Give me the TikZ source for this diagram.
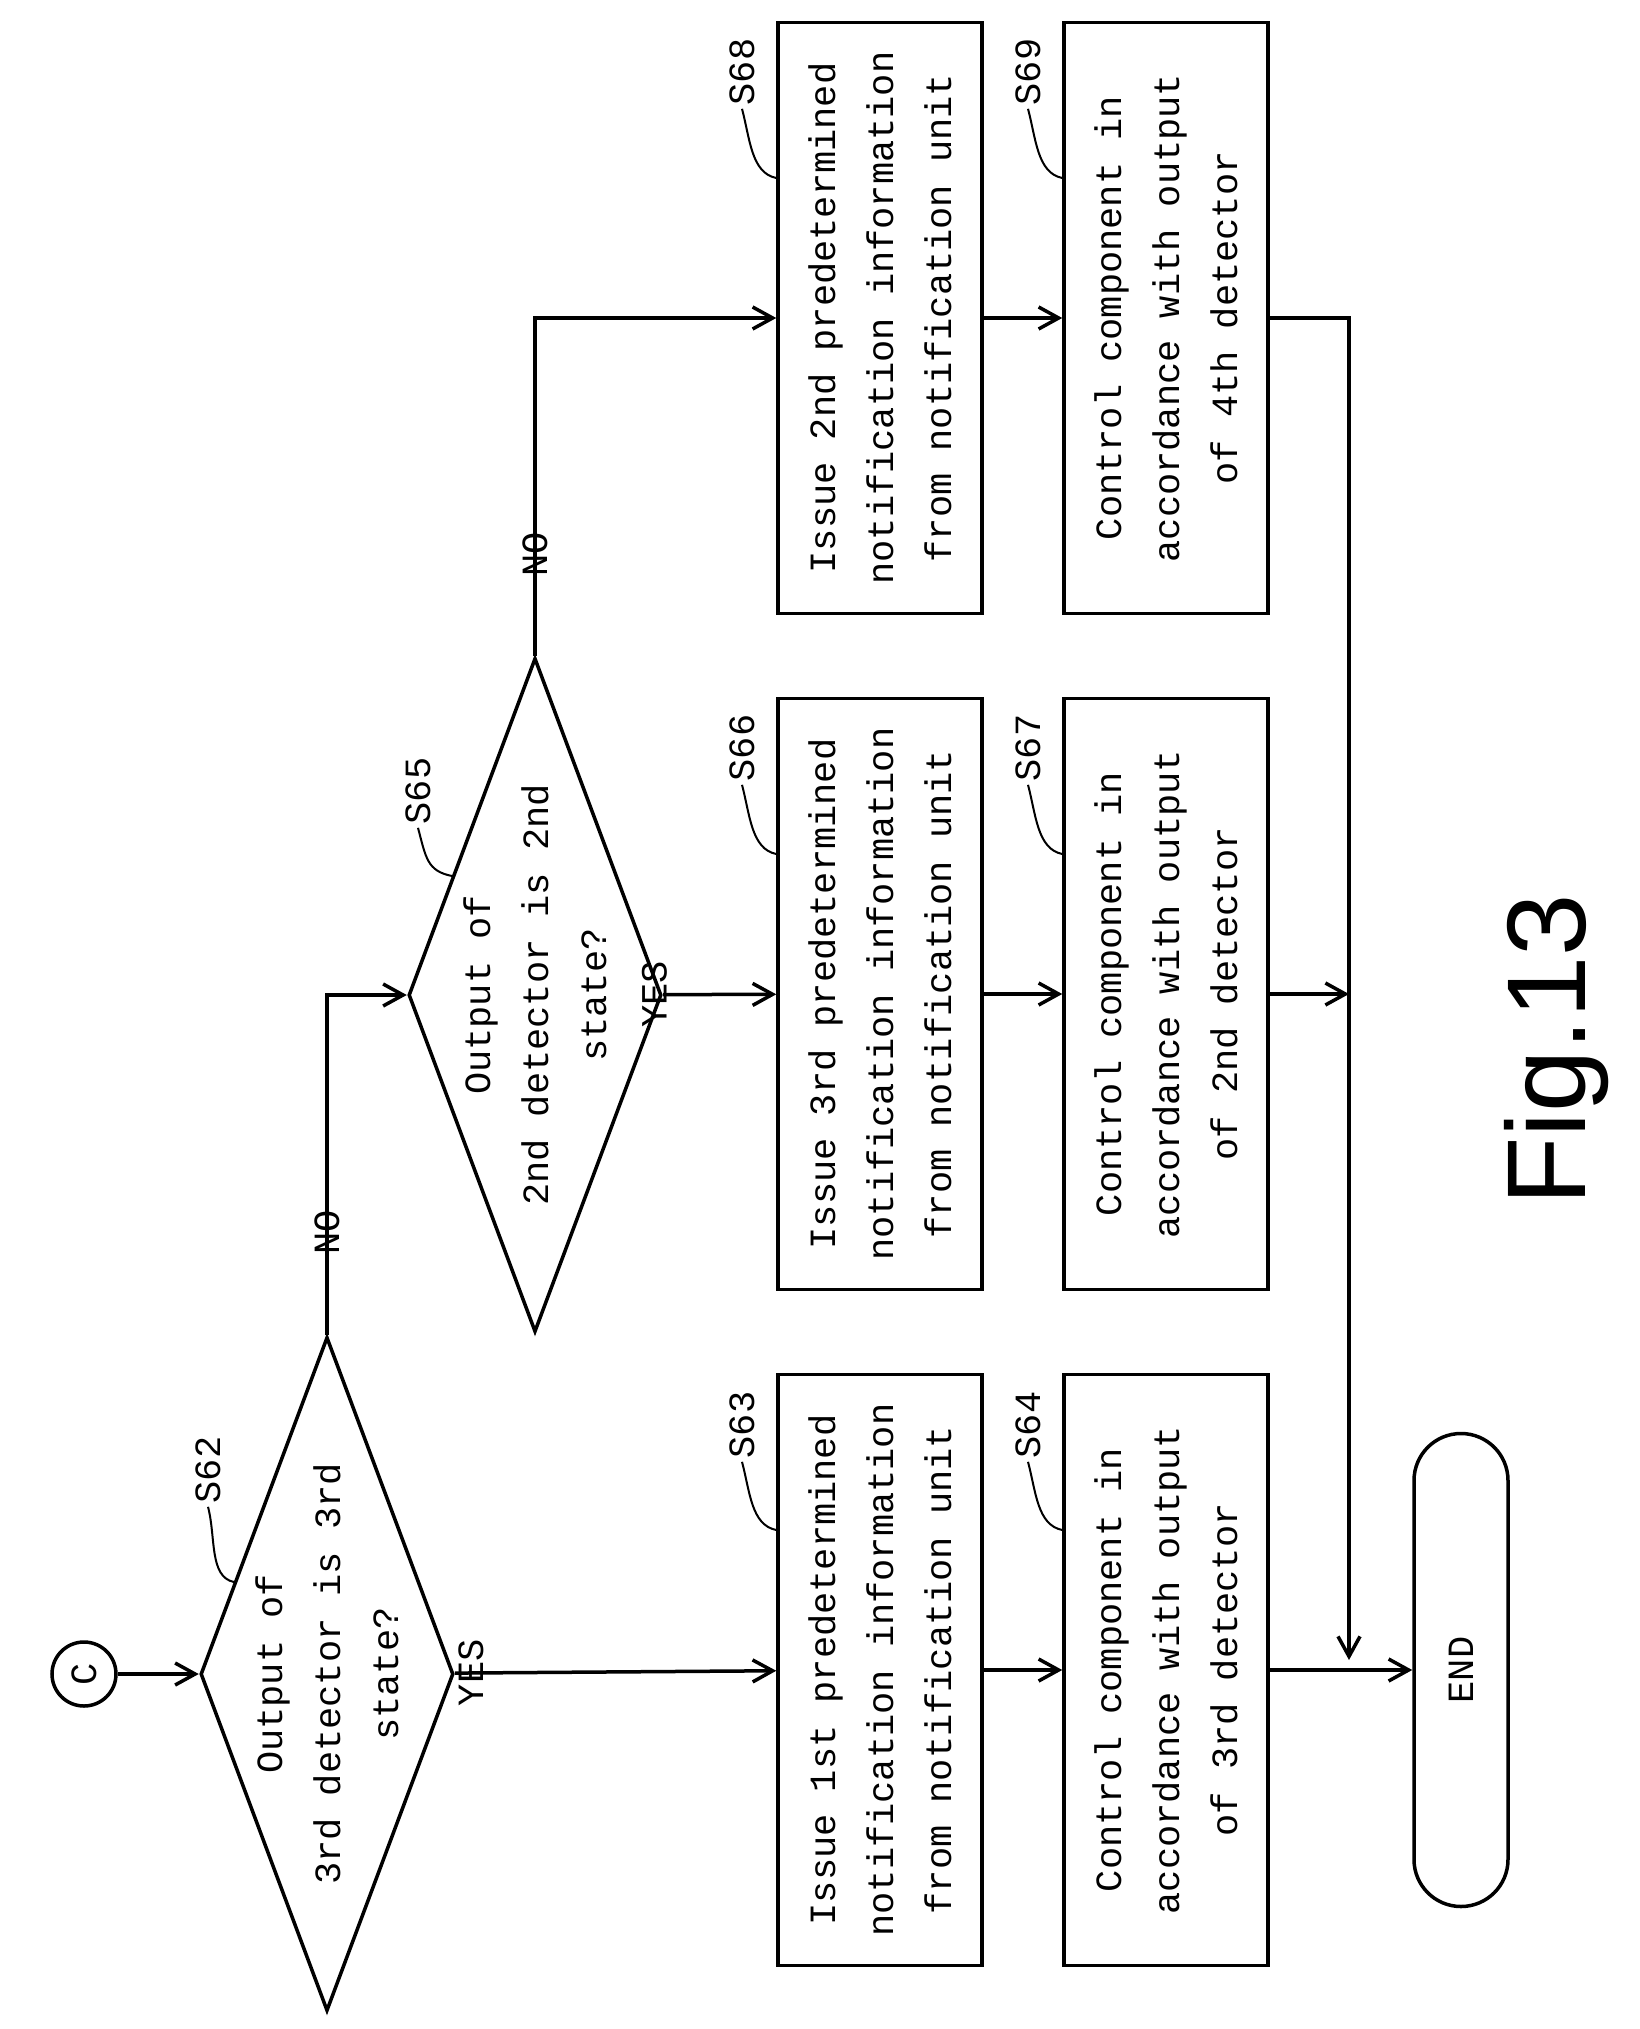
\documentclass[tikz,border=0pt]{standalone}
\usepackage{fontspec}
\setmainfont{Liberation Sans}
\setmonofont{Liberation Mono}
\usetikzlibrary{arrows.meta, shapes.geometric}

\tikzset{
	flow/.style={line width=3.5pt, -{Straight Barb[length=20pt,width=22pt,line width=3.5pt]}},
	process/.style={draw, line width=3.5pt, rotate=90, minimum width=591pt, minimum height=204pt,
		inner sep=0pt, align=center, font=\ttfamily\fontsize{37}{58}\selectfont},
	test/.style={draw, diamond, line width=3.5pt, rotate=90, minimum width=674pt,
		minimum height=253pt, inner sep=0pt},
	testtext/.style={rotate=90, align=center, font=\ttfamily\fontsize{37}{58}\selectfont},
	tag/.style={rotate=90, font=\ttfamily\fontsize{37}{44}\selectfont},
	leader/.style={line width=2pt},
}

\begin{document}
\begin{tikzpicture}[x=1pt, y=-1pt]
	\useasboundingbox (0,0) rectangle (1640,2029);

	\node[draw, circle, line width=3.5pt, minimum size=64pt, inner sep=0pt, rotate=90,
		font=\ttfamily\fontsize{37}{44}\selectfont] (c) at (84,1674) {C};
	\node[test] (s62) at (327,1674) {};
	\node[testtext] at (s62) {Output of\\3rd detector is 3rd\\state?};
	\node[test] (s65) at (535,995) {};
	\node[testtext] at (s65) {Output of\\2nd detector is 2nd\\state?};

	\node[process] (s63) at (880,1670) {Issue 1st predetermined\\notification information\\from notification unit};
	\node[process] (s64) at (1166,1670) {Control component in\\accordance with output\\of 3rd detector};
	\node[process] (s66) at (880,994) {Issue 3rd predetermined\\notification information\\from notification unit};
	\node[process] (s67) at (1166,994) {Control component in\\accordance with output\\of 2nd detector};
	\node[process] (s68) at (880,318) {Issue 2nd predetermined\\notification information\\from notification unit};
	\node[process] (s69) at (1166,318) {Control component in\\accordance with output\\of 4th detector};

	\node[draw, line width=3.5pt, rotate=90, rounded corners=47pt, minimum width=473pt,
		minimum height=94pt, font=\ttfamily\fontsize{37}{44}\selectfont] (end) at (1461,1670) {END};
	\coordinate (join) at (1349,1660);

	% step tags
	\node[tag] (l62) at (208,1470) {S62};
	\node[tag] (l65) at (418,791) {S65};
	\foreach \s/\x/\y in {63/742/1425, 64/1028/1425, 66/742/748, 67/1028/748, 68/742/72, 69/1028/72}
		\node[tag] (l\s) at (\x,\y) {S\s};
	\draw[leader] (l62.west) .. controls +(8,30) and +(-25,-5) .. (234,1582);
	\draw[leader] (l65.west) .. controls +(8,30) and +(-25,-5) .. (452,876);
	\foreach \s in {63,64,66,67,68,69}
		\draw[leader] (l\s.west) .. controls +(8,30) and +(-25,-5) .. ([yshift=140pt]s\s.north);

	% connectors
	\draw[flow] (c) -- (s62);
	\draw[flow] (s62) -- node[tag, pos=0.13, above=8pt] {YES} (s63);
	\draw[flow] (s62) |- node[tag, pos=0.2, left=6pt] {NO} (s65);
	\draw[flow] (s65) -- node[tag, pos=0.15, above=8pt] {YES} (s66);
	\draw[flow] (s65) |- node[tag, pos=0.2, left=6pt] {NO} (s68);
	\draw[flow] (s63) -- (s64);
	\draw[flow] (s66) -- (s67);
	\draw[flow] (s68) -- (s69);
	\draw[flow] (s64) -- (end);
	\draw[flow] (s67) -- (s67 -| join);
	\draw[flow] (s69) -| (join);

	\node[rotate=90, font=\fontsize{112}{120}\selectfont] (fig) at (1557,1050) {Fig.13};
\end{tikzpicture}
\end{document}
